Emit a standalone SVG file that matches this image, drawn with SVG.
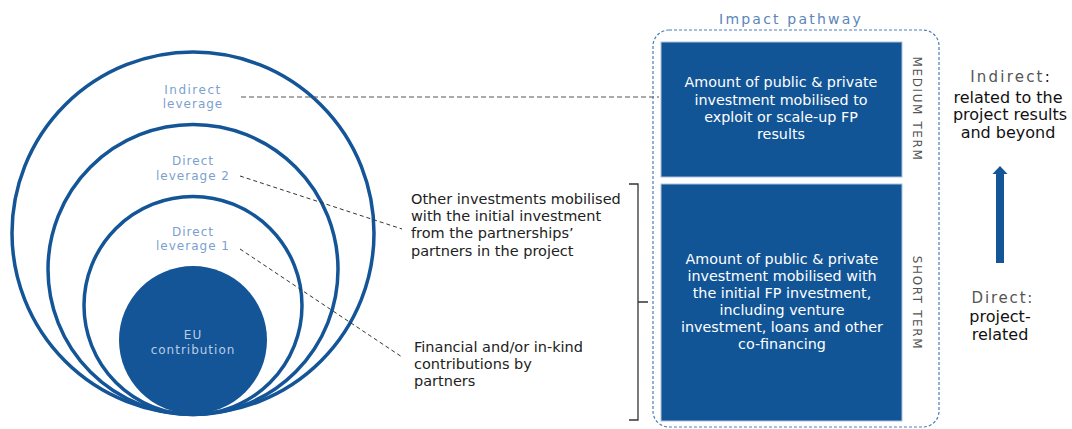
<svg xmlns="http://www.w3.org/2000/svg" width="1072" height="429" viewBox="0 0 1072 429">
<style>
.ring{fill:none;stroke:#135597;stroke-width:3.5}
.lbl{font-family:"DejaVu Sans",Verdana,sans-serif;font-size:12px;fill:#7b9fcf;letter-spacing:1px;text-anchor:middle}
.txt{font-family:"DejaVu Sans",Verdana,sans-serif;font-size:14.5px;fill:#222}
.box{fill:#125597;stroke:#a9c1dd;stroke-width:1}
.wt{font-family:"DejaVu Sans",Verdana,sans-serif;font-size:14.3px;fill:#fff;text-anchor:middle}
.term{font-family:"DejaVu Sans",Verdana,sans-serif;font-size:12px;fill:#555;letter-spacing:1.6px;text-anchor:middle}
.side{font-family:"DejaVu Sans",Verdana,sans-serif;font-size:16px;fill:#111;text-anchor:middle}
.dash{fill:none;stroke:#333;stroke-width:1;stroke-dasharray:4,3}
</style>
<g id="ring-indirect">
<circle class="ring" cx="193" cy="233" r="181"/>
<text class="lbl" x="193" y="94" style="letter-spacing:1.5px">Indirect</text>
<text class="lbl" x="193" y="108">leverage</text>
</g>
<g id="ring-direct2">
<circle class="ring" cx="193" cy="269.5" r="145"/>
<text class="lbl" x="193" y="165">Direct</text>
<text class="lbl" x="193" y="180">leverage 2</text>
</g>
<g id="ring-direct1">
<circle class="ring" cx="193" cy="305.5" r="109"/>
<text class="lbl" x="193" y="236">Direct</text>
<text class="lbl" x="193" y="250">leverage 1</text>
</g>
<g id="eu">
<circle cx="193" cy="340" r="74" fill="#135597"/>
<text class="lbl" x="193" y="339" style="fill:#b9cce6">EU</text>
<text class="lbl" x="193" y="354" style="fill:#b9cce6">contribution</text>
</g>
<g id="connectors">
<line class="dash" x1="241" y1="97" x2="659" y2="97" style="stroke:#555;stroke-dasharray:5,3"/>
<line class="dash" x1="240" y1="176" x2="402" y2="229"/>
<line class="dash" x1="240" y1="249" x2="402" y2="357"/>
<path d="M629 184 H638 V420 H629 M638 302 H648" fill="none" stroke="#333" stroke-width="1.3"/>
</g>
<g id="note-direct2">
<text class="txt" x="411" y="204">Other investments mobilised</text>
<text class="txt" x="411" y="221">with the initial investment</text>
<text class="txt" x="411" y="238">from the partnerships’</text>
<text class="txt" x="411" y="256">partners in the project</text>
</g>
<g id="note-direct1">
<text class="txt" x="414" y="352">Financial and/or in-kind</text>
<text class="txt" x="414" y="369">contributions by</text>
<text class="txt" x="414" y="386">partners</text>
</g>
<g id="impact-pathway">
<rect x="653" y="30" width="286" height="397" rx="16" fill="none" stroke="#4a7fb8" stroke-width="1.2" stroke-dasharray="3,2"/>
<text x="791" y="24" font-family="'DejaVu Sans',Verdana,sans-serif" font-size="14" fill="#5a86ba" letter-spacing="2.2" text-anchor="middle">Impact pathway</text>
</g>
<g id="medium">
<rect class="box" x="661" y="42" width="241" height="135"/>
<text class="wt" x="781" y="87">Amount of public &amp; private</text>
<text class="wt" x="781" y="105">investment mobilised to</text>
<text class="wt" x="781" y="122">exploit or scale-up FP</text>
<text class="wt" x="781" y="139">results</text>
<text class="term" transform="translate(913,109) rotate(90)">MEDIUM TERM</text>
</g>
<g id="short">
<rect class="box" x="661" y="184" width="241" height="237"/>
<text class="wt" x="782" y="264">Amount of public &amp; private</text>
<text class="wt" x="782" y="281">investment mobilised with</text>
<text class="wt" x="782" y="298">the initial FP investment,</text>
<text class="wt" x="782" y="315">including venture</text>
<text class="wt" x="782" y="332">investment, loans and other</text>
<text class="wt" x="782" y="349">co-financing</text>
<text class="term" transform="translate(913,303) rotate(90)">SHORT TERM</text>
</g>
<g id="indirect-note">
<text class="side" x="1010" y="82" style="font-size:15px"><tspan fill="#555" letter-spacing="2.2">Indirect</tspan>:</text>
<text class="side" x="1008" y="103">related to the</text>
<text class="side" x="1010" y="120">project results</text>
<text class="side" x="1008" y="138">and beyond</text>
</g>
<g id="arrow">
<path d="M996 263 V174 H992.5 L1000 166 L1007.5 174 H1004 V263 Z" fill="#135597"/>
</g>
<g id="direct-note">
<text class="side" x="1002" y="303" style="font-size:15px"><tspan fill="#555" letter-spacing="1.8">Direct</tspan><tspan fill="#555">:</tspan></text>
<text class="side" x="1000" y="322">project-</text>
<text class="side" x="1000" y="340">related</text>
</g>
</svg>
